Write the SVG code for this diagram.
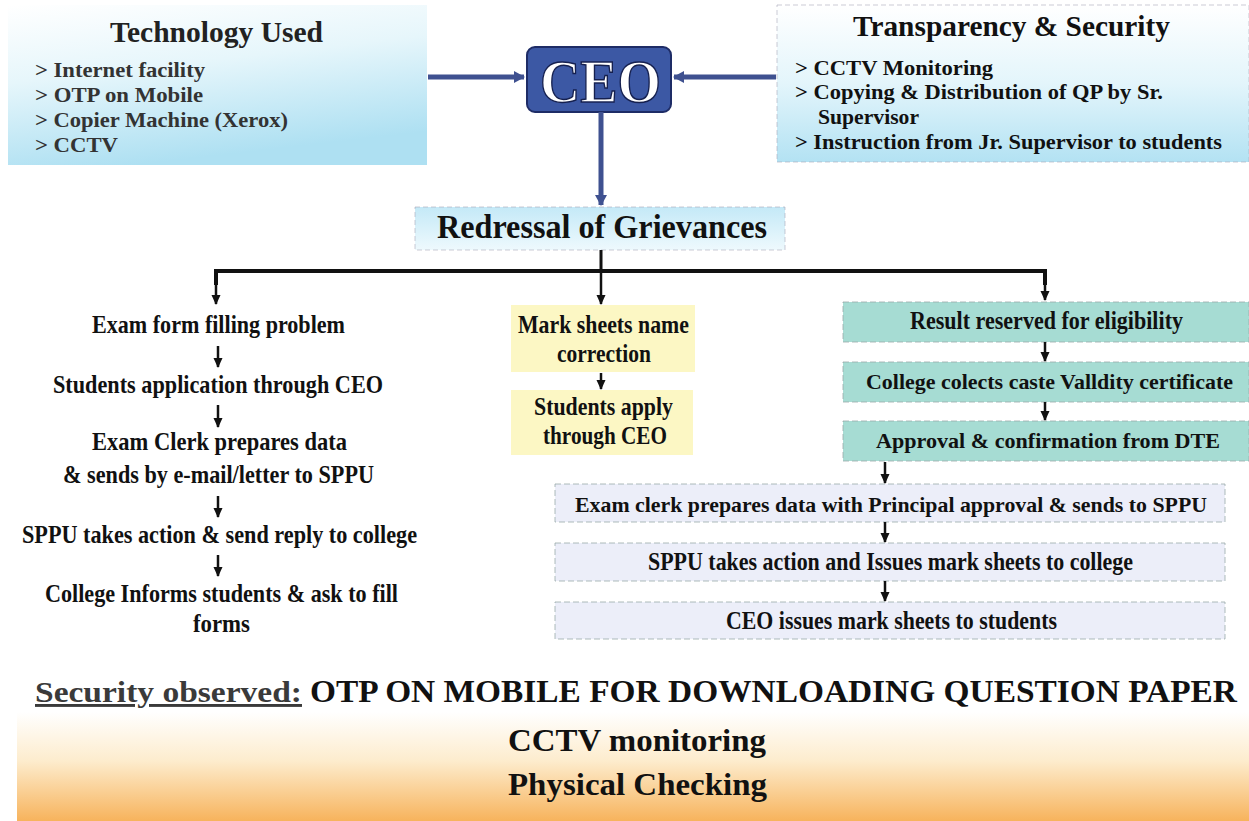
<svg xmlns="http://www.w3.org/2000/svg" width="1249" height="821" viewBox="0 0 1249 821" font-family="'Liberation Serif', serif" font-weight="bold">
<defs>
<linearGradient id="gCyan" x1="0" y1="0" x2="0.3" y2="1">
<stop offset="0" stop-color="#ffffff"/>
<stop offset="0.45" stop-color="#e6f6fb"/>
<stop offset="1" stop-color="#aee0f2"/>
</linearGradient>
<linearGradient id="gCyan2" x1="0" y1="0" x2="0" y2="1">
<stop offset="0" stop-color="#ffffff"/>
<stop offset="0.5" stop-color="#e3f5fb"/>
<stop offset="1" stop-color="#b3e2f3"/>
</linearGradient>
<linearGradient id="gRed" x1="0" y1="0" x2="0" y2="1">
<stop offset="0" stop-color="#c4e9f7"/>
<stop offset="1" stop-color="#eef9fd"/>
</linearGradient>
<linearGradient id="gOrange" x1="0" y1="0" x2="0" y2="1">
<stop offset="0" stop-color="#ffffff"/>
<stop offset="0.45" stop-color="#fdeccd"/>
<stop offset="1" stop-color="#f7b35c"/>
</linearGradient>
<marker id="ahB" markerUnits="userSpaceOnUse" markerWidth="14" markerHeight="14" refX="10" refY="7" orient="auto">
<path d="M0,1 L11,7 L0,13 Z" fill="#3f5190"/>
</marker>
<marker id="ah" markerUnits="userSpaceOnUse" markerWidth="12" markerHeight="12" refX="9" refY="6" orient="auto">
<path d="M0,1.5 L10,6 L0,10.5 Z" fill="#111"/>
</marker>
</defs>
<style>
text { font-family: "Liberation Serif", serif; font-weight: bold; fill: #111; }
.title { font-size: 30px; }
.bul { font-size: 21px; }
.body { font-size: 25px; }
.small { font-size: 22px; }
.box { stroke: #9aa; stroke-width: 0.8; stroke-dasharray: 6 3; }
.teal { fill: #a6dcd3; }
.yel { fill: #fcf7c4; stroke: none; }
.lav { fill: #eceef9; }
.conn { stroke: #111; fill: none; }
</style>

<rect x="0" y="0" width="1249" height="821" fill="#ffffff"/>

<g id="security-band">
<rect x="17" y="712" width="1232" height="109" fill="url(#gOrange)"/>
<text x="35" y="702" font-size="29" style="fill:#3a3a3a" text-decoration="underline" textLength="267" lengthAdjust="spacingAndGlyphs">Security observed:</text>
<text x="310" y="702" font-size="31" textLength="927" lengthAdjust="spacingAndGlyphs">OTP ON MOBILE FOR DOWNLOADING QUESTION PAPER</text>
<text x="508" y="751" font-size="32" textLength="258" lengthAdjust="spacingAndGlyphs">CCTV monitoring</text>
<text x="508" y="795" font-size="32" textLength="259" lengthAdjust="spacingAndGlyphs">Physical Checking</text>
</g>

<g id="technology-used">
<rect x="8" y="5" width="419" height="160" fill="url(#gCyan)"/>
<text class="title" x="110" y="42" textLength="213" lengthAdjust="spacingAndGlyphs" style="fill:#222">Technology Used</text>
<text class="bul" x="35" y="77" textLength="170" lengthAdjust="spacingAndGlyphs" style="fill:#333">&gt; Internet facility</text>
<text class="bul" x="35" y="102" textLength="168" lengthAdjust="spacingAndGlyphs" style="fill:#333">&gt; OTP on Mobile</text>
<text class="bul" x="35" y="127" textLength="253" lengthAdjust="spacingAndGlyphs" style="fill:#333">&gt; Copier Machine (Xerox)</text>
<text class="bul" x="35" y="152" textLength="83" lengthAdjust="spacingAndGlyphs" style="fill:#333">&gt; CCTV</text>
</g>

<g id="transparency-security">
<rect x="777" y="5" width="472" height="157" fill="url(#gCyan2)" stroke="#aab" stroke-width="0.6" stroke-dasharray="5 3"/>
<text class="title" x="853" y="36" textLength="317" lengthAdjust="spacingAndGlyphs">Transparency &amp; Security</text>
<text class="bul" x="795" y="75" textLength="198" lengthAdjust="spacingAndGlyphs">&gt; CCTV Monitoring</text>
<text class="bul" x="795" y="99" textLength="368" lengthAdjust="spacingAndGlyphs">&gt; Copying &amp; Distribution of QP by Sr.</text>
<text class="bul" x="818" y="124" textLength="101" lengthAdjust="spacingAndGlyphs">Supervisor</text>
<text class="bul" x="795" y="149" textLength="427" lengthAdjust="spacingAndGlyphs">&gt; Instruction from Jr. Supervisor to students</text>
</g>

<g id="ceo">
<rect x="527" y="47" width="144" height="65" rx="8" fill="#3c58a4" stroke="#1e2c66" stroke-width="2"/>
<text x="540" y="102" font-size="62" textLength="121" lengthAdjust="spacingAndGlyphs" style="fill:#ffffff;stroke:#15204f;stroke-width:1.5">CEO</text>
</g>

<g id="redressal">
<rect x="415" y="207" width="370" height="43" fill="url(#gRed)" stroke="#aab" stroke-width="0.6" stroke-dasharray="5 3"/>
<text x="437" y="238" font-size="34" textLength="330" lengthAdjust="spacingAndGlyphs">Redressal of Grievances</text>
</g>

<g id="left-branch">
<text class="body" x="92" y="333" textLength="253" lengthAdjust="spacingAndGlyphs">Exam form filling problem</text>
<text class="body" x="53" y="393" textLength="330" lengthAdjust="spacingAndGlyphs">Students application through CEO</text>
<text class="body" x="92" y="450" textLength="255" lengthAdjust="spacingAndGlyphs">Exam Clerk prepares data</text>
<text class="body" x="63" y="483" textLength="311" lengthAdjust="spacingAndGlyphs">&amp; sends by e-mail/letter to SPPU</text>
<text class="body" x="22" y="543" textLength="395" lengthAdjust="spacingAndGlyphs">SPPU takes action &amp; send reply to college</text>
<text class="body" x="45" y="602" textLength="353" lengthAdjust="spacingAndGlyphs">College Informs students &amp; ask to fill</text>
<text class="body" x="193" y="632" textLength="57" lengthAdjust="spacingAndGlyphs">forms</text>
</g>

<g id="mark-sheets-name-correction">
<rect class="yel" x="511" y="305" width="184" height="67"/>
<text class="body" x="518" y="333" textLength="171" lengthAdjust="spacingAndGlyphs">Mark sheets name</text>
<text class="body" x="557" y="362" textLength="94" lengthAdjust="spacingAndGlyphs">correction</text>
</g>
<g id="students-apply">
<rect class="yel" x="511" y="390" width="182" height="65"/>
<text class="body" x="534" y="415" textLength="139" lengthAdjust="spacingAndGlyphs">Students apply</text>
<text class="body" x="543" y="444" textLength="124" lengthAdjust="spacingAndGlyphs">through CEO</text>
</g>

<g id="result-reserved">
<rect class="box teal" x="843" y="302" width="406" height="40"/>
<text class="body" x="910" y="329" textLength="273" lengthAdjust="spacingAndGlyphs">Result reserved for eligibility</text>
</g>
<g id="caste-validity">
<rect class="box teal" x="843" y="362" width="406" height="40"/>
<text class="small" x="866" y="389" textLength="367" lengthAdjust="spacingAndGlyphs">College colects caste Valldity certificate</text>
</g>
<g id="dte-approval">
<rect class="box teal" x="843" y="421" width="406" height="40"/>
<text class="small" x="876" y="448" textLength="344" lengthAdjust="spacingAndGlyphs">Approval &amp; confirmation from DTE</text>
</g>
<g id="exam-clerk">
<rect class="box lav" x="555" y="484" width="670" height="38"/>
<text class="small" x="575" y="512" textLength="632" lengthAdjust="spacingAndGlyphs">Exam clerk prepares data with Principal approval &amp; sends to SPPU</text>
</g>
<g id="sppu-issues">
<rect class="box lav" x="555" y="543" width="670" height="38"/>
<text class="body" x="648" y="570" textLength="485" lengthAdjust="spacingAndGlyphs">SPPU takes action and Issues mark sheets to college</text>
</g>
<g id="ceo-issues">
<rect class="box lav" x="555" y="602" width="670" height="37"/>
<text class="body" x="726" y="629" textLength="331" lengthAdjust="spacingAndGlyphs">CEO issues mark sheets to students</text>
</g>

<g id="connectors">
<line x1="428" y1="77" x2="524" y2="77" stroke="#3f5190" stroke-width="5" marker-end="url(#ahB)"/>
<line x1="776" y1="77" x2="674" y2="77" stroke="#3f5190" stroke-width="5" marker-end="url(#ahB)"/>
<line x1="601" y1="112" x2="601" y2="205" stroke="#3f5190" stroke-width="5" marker-end="url(#ahB)"/>
<line class="conn" x1="601" y1="250" x2="601" y2="271" stroke-width="3"/>
<polyline class="conn" points="216,285 216,271 1045,271 1045,285" stroke-width="4"/>
<line class="conn" x1="216" y1="275" x2="216" y2="304" stroke-width="2.5" marker-end="url(#ah)"/>
<line class="conn" x1="601" y1="271" x2="601" y2="304" stroke-width="2.5" marker-end="url(#ah)"/>
<line class="conn" x1="1045" y1="275" x2="1045" y2="300" stroke-width="2.5" marker-end="url(#ah)"/>
<line class="conn" x1="218" y1="346" x2="218" y2="367" stroke-width="2.5" marker-end="url(#ah)"/>
<line class="conn" x1="218" y1="405" x2="218" y2="427" stroke-width="2.5" marker-end="url(#ah)"/>
<line class="conn" x1="218" y1="496" x2="218" y2="517" stroke-width="2.5" marker-end="url(#ah)"/>
<line class="conn" x1="218" y1="555" x2="218" y2="576" stroke-width="2.5" marker-end="url(#ah)"/>
<line class="conn" x1="601" y1="373" x2="601" y2="389" stroke-width="2.5" marker-end="url(#ah)"/>
<line class="conn" x1="1045" y1="342" x2="1045" y2="361" stroke-width="2.5" marker-end="url(#ah)"/>
<line class="conn" x1="1045" y1="402" x2="1045" y2="420" stroke-width="2.5" marker-end="url(#ah)"/>
<line class="conn" x1="885" y1="462" x2="885" y2="483" stroke-width="2.5" marker-end="url(#ah)"/>
<line class="conn" x1="885" y1="522" x2="885" y2="542" stroke-width="2.5" marker-end="url(#ah)"/>
<line class="conn" x1="885" y1="581" x2="885" y2="601" stroke-width="2.5" marker-end="url(#ah)"/>
</g>
</svg>
